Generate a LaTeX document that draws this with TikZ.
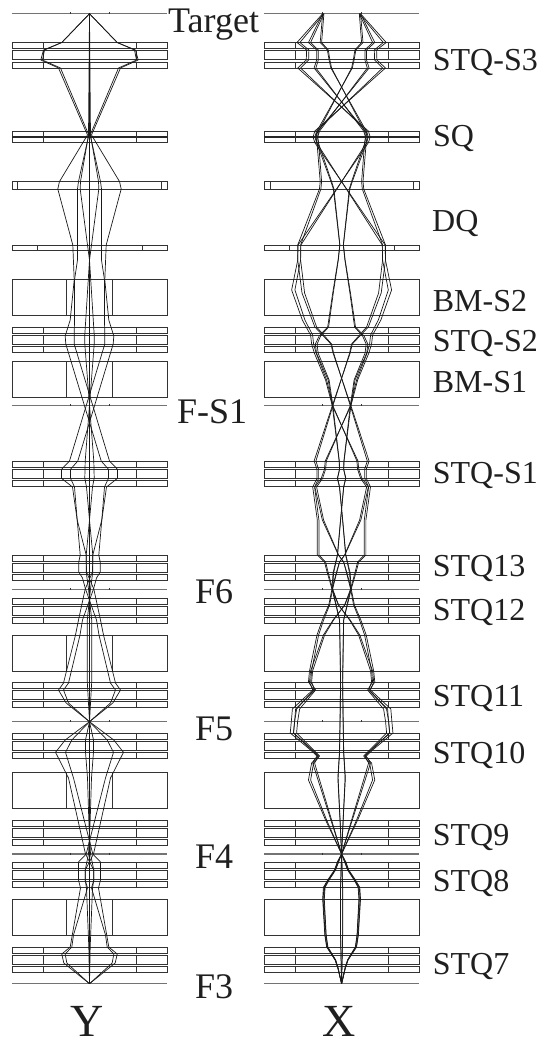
\documentclass[tikz,border=0pt]{standalone}
\usepackage{fontspec}
\setmainfont{Liberation Serif}
\tikzset{
  mag/.style={draw=black!80,line width=0.95pt},
  focal/.style={draw=black!55,line width=1.2pt},
  tick/.style={draw=black!80,line width=0.7pt},
  ray/.style={draw=black!90,line width=0.7pt,line join=round},
  lab/.style={anchor=base west,inner sep=0pt,text=black!88,font=\fontsize{32}{32}\selectfont},
  labb/.style={anchor=base west,inner sep=0pt,text=black!88,font=\fontsize{36}{36}\selectfont},
  labc/.style={anchor=base west,inner sep=0pt,text=black!88,font=\fontsize{46}{46}\selectfont}
}
\newcommand\colsdo[1]{\foreach \xa/\xb/\xc/\xd in {12/43/136/167,264/295/388/419}{#1}}
\newcommand\stq[1]{\colsdo{\foreach \ta/\tb in {0/6,8/17,19.5/25.5}{
  \draw[mag] (\xa,{#1+\ta}) rectangle (\xd,{#1+\tb});
  \draw[mag] (\xb,{#1+\ta}) -- (\xb,{#1+\tb});
  \draw[mag] (\xc,{#1+\ta}) -- (\xc,{#1+\tb});}}}
\newcommand\focalline[1]{\colsdo{\draw[focal] (\xa,#1) -- (\xd,#1);}}
\newcommand\ticks[1]{\foreach \tx in {70,109,322.7,361}{\draw[tick] (\tx,#1-1.5) -- (\tx,#1+0.5);}}
\newcommand\rayY[1]{\foreach \sg in {1,-1}{\begin{scope}[xshift=89.5pt,xscale=\sg]\draw[ray] plot coordinates {#1};\end{scope}}}
\newcommand\rayX[1]{\foreach \sg in {1,-1}{\foreach \sc in {1,1.07}{\begin{scope}[xshift=341.6pt,xscale=\sg*\sc]\draw[ray] plot coordinates {#1};\end{scope}}}}
\begin{document}
\begin{tikzpicture}[x=1pt,y=-1pt]
\useasboundingbox (0,0) rectangle (548,1042);
% magnets
\foreach \ty in {42.5,327.3,461,555.3,598.3,682.3,733.3,820,862.3,947}{\stq{\ty}}
% SQ
\colsdo{
  \draw[mag] (\xa,131) rectangle (\xd,142.7);
  \draw[black!85,line width=1.4pt] (\xa,136.8) -- (\xd,136.8);
  \draw[mag] (\xb,131) -- (\xb,142.7);
  \draw[mag] (\xc,131) -- (\xc,142.7);
}
% DQ
\foreach \xa/\xb/\xc/\xd in {12/17.3/161.3/167,264/270/413/419}{
  \draw[mag] (\xa,181.5) rectangle (\xd,189.3);
  \draw[mag] (\xb,181.5) -- (\xb,189.3);
  \draw[mag] (\xc,181.5) -- (\xc,189.3);
}
\foreach \xa/\xb/\xc/\xd in {12/37/142/167,264/289.3/394.3/419}{
  \draw[mag] (\xa,245) rectangle (\xd,250);
  \draw[mag] (\xb,245) -- (\xb,250);
  \draw[mag] (\xc,245) -- (\xc,250);
}
% bending magnets
\foreach \ty/\tz in {279.3/315.7,361/397.3,635/671.3,772.3/808.3,899.3/935.3}{
  \draw[mag] (12,\ty) rectangle (167,\tz);
  \draw[mag] (66,\ty) -- (66,\tz);
  \draw[mag] (112.7,\ty) -- (112.7,\tz);
  \draw[mag] (264,\ty) rectangle (419,\tz);
}
% focal planes
\foreach \ty in {13.7,405.7,589.3,721.7,854,983.7}{\focalline{\ty}}
\foreach \ty in {13.7,405.7,589.3,721.7,854}{\ticks{\ty}}
% Y rays
\draw[ray] (89.5,13.7) -- (89.5,983.7);
\rayY{(0,13.7)(-27.7,42.5)(-46,50)(-48.7,60)(-31,68)(-2,135)(-30,181.5)(-31.7,189)(-16.7,245)(-15.3,280)(-19.3,320)(-24.3,336)(-23.7,344)(11.7,461)(19,469.3)(19,478.3)(15,487)(12.3,520)(3.3,555)(3,572)(-4.3,589)(-11,620)(-14,635)(-26,683)(-31,690)(-23.3,703)(0,721.7)(24.3,740)(34,752.3)(21,778)(4,854)(-4.3,870)(-4.3,880)(-2,888)(-16,935)(-17.7,947)(-24.3,954)(-22.7,963)(0,983.7)}
\rayY{(0,13.7)(-27.7,42.5)(-45,50)(-47,60)(-29,68)(-0.7,135)(-11,181.5)(-12,189)(-12,245)(-12,260)(-15,280)(-15,320)(-15.3,336)(-15.3,344)(20,461)(28,469.3)(28,478.3)(17,487)(12.3,520)(9.3,555)(10.7,562)(10.7,572)(7,578)(4,589)(-7,620)(-9.5,635)(-21,683)(-26,690)(-21,703)(0,721.7)(17.7,740)(24,752.3)(16,778)(-3.3,854)(-11,862)(-11,870)(-11,880)(-9,888)(-19.3,947)(-27.7,954)(-25.7,963)(0,983.7)}
\rayY{(0,13.7)(-1,135)(-9,181.5)(-9.3,189)(-2,245)(0,260)(-4.7,335)(-4.7,344)(4.3,461)(4.7,478)(3,487)(0,520)(-3.3,555)(-3.3,572)(-1,589)(2.2,620)(2.2,682)(0,721.7)(-4,740)(-4,752)(-2,778)(-0.7,820)(1,854)(4.3,870)(4.3,880)(3,888)(0.7,947)(0,983.7)}
% X rays
\rayX{(-17.7,13.7)(-41.7,42.5)(-32.7,50)(-33,60)(-41,68)(25,131)(26.7,137)(25,142.7)(-40.7,245)(-41,260)(-46.7,290)(-36.7,320)(-29,335)(-28,344)(-25.5,353)(-15,380)(-8.7,405.7)(15.3,461)(16,469.3)(19,478.3)(25,487)(18,520)(3,555)(-2,562)(-5,573)(-9,589)(-12,605)(-18,620)(-23,635)(-30,671)(-31,682)(-26,690)(-42,709)(-44,721.7)(-45,733)(-28,750)(-22,756)(-28,763)(-31,780)(-15,820)(0,854)(4,862)(6.7,870)(13,880)(17,887.3)(17.7,899)(15.7,935)(14,947)(6,960)(3.5,968)(0,983.7)}
\rayX{(-17.7,13.7)(-31,42.5)(-23.3,50)(-23.3,60)(-25.7,68)(22,131)(24,137)(23,142.7)(20,181.5)(20.7,189)(41,245)(41,260)(37,293)(25,327)(10,344)(8,353)(-8.7,405.7)(-25.7,461)(-23,469.3)(-23,478.3)(-27,487)(-22.7,520)(-22.7,555)(-16,562)(-13.3,573)(-9,589)(-3,605)(8,620)(17,635)(29,671)(30,682)(27,690)(46,709)(47,721.7)(48,733)(29,750)(23,756)(27,763)(22,780)(10,820)(0,854)(-6,870)(-12.5,880)(-16.5,887.3)(-17.3,899)(-15.4,935)(-13.7,947)(-6,960)(-3.5,968)(0,983.7)}
\rayX{(-17.7,13.7)(-20,42.5)(-13.3,50)(-11.7,60)(-10,68)(23,131)(24,137)(23.3,142.7)(10,181.5)(7.7,189)(1.7,245)(3.3,260)(8.3,293)(13,327)(21,336)(24.5,344)(23.5,353)(12.5,380)(8.7,405.7)(2.3,461)(2,469.3)(4,478.3)(2,487)(-1,520)(-4,555)(-8,573)(-9,589)(-2,620)(-1.7,635)(-1,682)(-1.5,721.7)(-2,752)(-3.5,778)(-1.5,820)(0,854)(1,887)(1,935)(0,983.7)}
% labels
\node[labb] (target) at (168,32) {Target};
\node[lab] (stqs3) at (432.7,70.7) {STQ-S3};
\node[lab] (sq) at (433,146.7) {SQ};
\node[lab] (dq) at (432,231.7) {DQ};
\node[lab] (bms2) at (432.7,311.7) {BM-S2};
\node[lab] (stqs2) at (432.7,351.7) {STQ-S2};
\node[lab] (bms1) at (432.7,392.3) {BM-S1};
\node[labb] (fs1) at (177,423.3) {F-S1};
\node[lab] (stqs1) at (432.7,483.3) {STQ-S1};
\node[lab] (stq13) at (432.7,576) {STQ13};
\node[lab] (stq12) at (432.7,620) {STQ12};
\node[lab] (stq11) at (432.7,706.7) {STQ11};
\node[lab] (stq10) at (432.7,763.3) {STQ10};
\node[lab] (stq9) at (432.7,845) {STQ9};
\node[lab] (stq8) at (432.7,891) {STQ8};
\node[lab] (stq7) at (432.7,974) {STQ7};
\node[labb] (f6) at (195,603.3) {F6};
\node[labb] (f5) at (195,740) {F5};
\node[labb] (f4) at (195,868.3) {F4};
\node[labb] (f3) at (195,998.3) {F3};
\node[labc] (ylab) at (70,1036.5) {Y};
\node[labc] (xlab) at (322.7,1036.5) {X};
\end{tikzpicture}
\end{document}
